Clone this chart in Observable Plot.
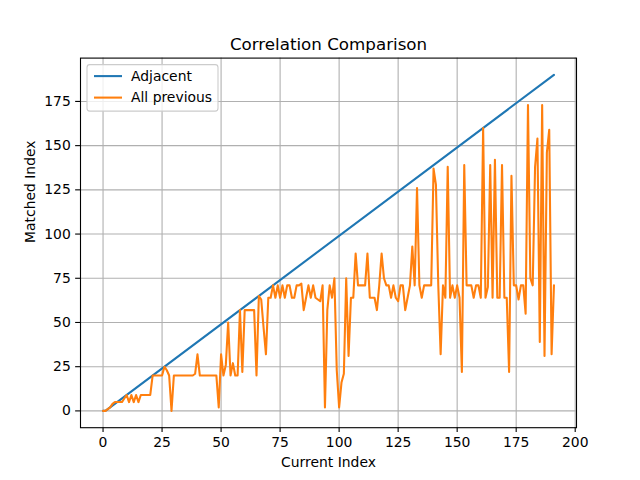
<!DOCTYPE html>
<html><head><meta charset="utf-8">
<script src="https://cdn.jsdelivr.net/npm/d3@7"></script>
<script src="https://cdn.jsdelivr.net/npm/@observablehq/plot@0.6"></script>
<style>body{margin:0;background:#fff}</style>
</head><body><div id="chart"></div>
<script>
const title = "Correlation Comparison";
const xLabel = "Current Index";
const yLabel = "Matched Index";
const seriesNames = ["Adjacent", "All previous"];
const seriesColors = ["#1f77b4", "#ff7f0e"];
const xTicks = [0, 25, 50, 75, 100, 125, 150, 175, 200];
const yTicks = [0, 25, 50, 75, 100, 125, 150, 175];
const adjacentX = [0, 1, 191];
const adjacentY = [0, 0, 190];
const allPrevious = [
  0, 0, 1, 2, 4, 5, 5, 5, 5, 7,
  9, 5, 9, 5, 9, 5, 9, 9, 9, 9,
  9, 20, 20, 20, 20, 20, 25, 23, 20, 0,
  20, 20, 20, 20, 20, 20, 20, 20, 20, 21,
  32, 20, 20, 20, 20, 20, 20, 20, 20, 2,
  32, 20, 26, 50, 20, 27, 20, 20, 57, 22,
  57, 57, 57, 57, 57, 20, 65, 63, 47, 32,
  64, 64, 71, 64, 71, 64, 71, 64, 71, 71,
  64, 64, 71, 71, 72, 57, 64, 71, 64, 71,
  64, 63, 62, 71, 2, 57, 71, 64, 75, 23,
  2, 16, 21, 75, 31, 64, 64, 89, 71, 71,
  71, 71, 89, 64, 64, 64, 57, 71, 89, 75,
  71, 71, 64, 71, 64, 62, 71, 71, 57, 64,
  71, 93, 71, 126, 71, 64, 71, 71, 71, 71,
  137, 128, 71, 32, 71, 64, 138, 64, 71, 64,
  71, 64, 22, 139, 71, 71, 71, 64, 71, 71,
  64, 160, 64, 70, 139, 64, 142, 64, 64, 139,
  64, 64, 22, 133, 71, 71, 63, 71, 71, 55,
  173, 75, 71, 138, 154, 39, 173, 31, 146, 159,
  32, 71
];

const adjacent = adjacentX.map((x, i) => ({x, y: adjacentY[i]}));
const previous = allPrevious.map((y, x) => ({x, y}));

const font = "DejaVu Sans, sans-serif";
const mLeft = 80, mRight = 64, mTop = 57.6, mBottom = 52.8;

const svg = Plot.plot({
  width: 640,
  height: 480,
  marginLeft: mLeft,
  marginRight: mRight,
  marginTop: mTop,
  marginBottom: mBottom,
  style: {fontFamily: font, fontSize: "13.9px", background: "#fff", color: "#000"},
  x: {domain: [-9.55, 200.55]},
  y: {domain: [-9.5, 199.5]},
  marks: [
    Plot.gridX(xTicks, {stroke: "#b0b0b0", strokeOpacity: 1, strokeWidth: 1.1}),
    Plot.gridY(yTicks, {stroke: "#b0b0b0", strokeOpacity: 1, strokeWidth: 1.1}),
    Plot.line(adjacent, {x: "x", y: "y", stroke: seriesColors[0], strokeWidth: 2.08}),
    Plot.line(previous, {x: "x", y: "y", stroke: seriesColors[1], strokeWidth: 2.08}),
    Plot.frame({stroke: "#000", strokeWidth: 1.1}),
    Plot.axisX({ticks: xTicks, tickSize: 4.86, tickPadding: 4.86, label: null, fontSize: 13.9, strokeWidth: 1.1}),
    Plot.axisY({ticks: yTicks, tickSize: 4.86, tickPadding: 4.86, label: null, fontSize: 13.9, strokeWidth: 1.1}),
    Plot.text([title], {frameAnchor: "top", lineAnchor: "bottom", dy: -8.3, fontSize: 16.7, fill: "#000"}),
    Plot.text([xLabel], {frameAnchor: "bottom", lineAnchor: "middle", dy: 35, fontSize: 13.9, fill: "#000"}),
    Plot.text([yLabel], {frameAnchor: "left", rotate: -90, dx: -50, fontSize: 13.9, fill: "#000"})
  ]
});

// legend (upper left, inside the axes)
const lg = d3.select(svg).append("g").attr("text-anchor", "start");
const lx = mLeft + 7, ly = mTop + 7;
lg.append("rect").attr("x", lx).attr("y", ly).attr("width", 131).attr("height", 46.5)
  .attr("rx", 2.8).attr("fill", "#fff").attr("fill-opacity", 0.8)
  .attr("stroke", "#cccccc").attr("stroke-width", 1.1);
seriesNames.forEach((name, i) => {
  const cy = ly + 11.5 + i * 21.5;
  lg.append("line").attr("x1", lx + 7).attr("x2", lx + 35).attr("y1", cy).attr("y2", cy)
    .attr("stroke", seriesColors[i]).attr("stroke-width", 2.08);
  lg.append("text").attr("x", lx + 44).attr("y", cy).attr("dy", "0.35em")
    .attr("text-anchor", "start")
    .attr("font-family", font).attr("font-size", 13.9).attr("fill", "#000").text(name);
});

document.getElementById("chart").appendChild(svg);
</script>
</body></html>
